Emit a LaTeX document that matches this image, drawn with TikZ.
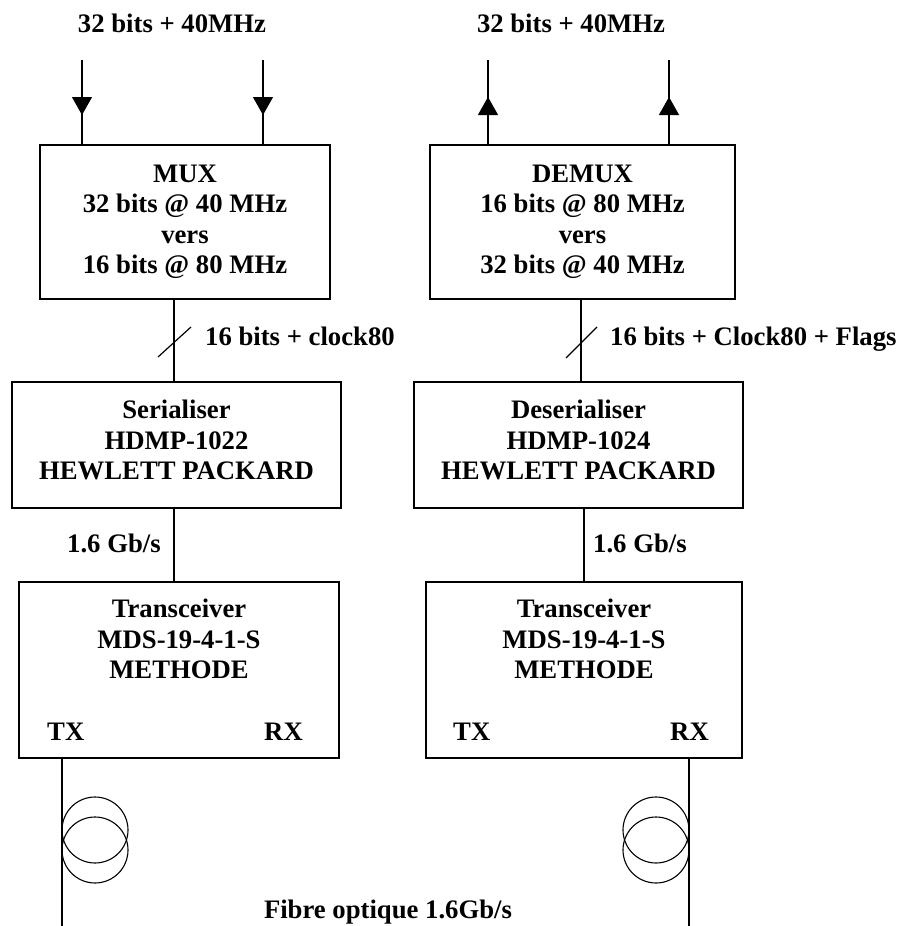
\documentclass[tikz,border=0pt]{standalone}
\usepackage{fontspec}
\setmainfont{Liberation Serif}
\usetikzlibrary{arrows.meta}
\begin{document}
\begin{tikzpicture}[x=1pt,y=-1pt,
  box/.style={draw,line width=1.4pt,inner sep=0pt,rectangle},
  txt/.style={inner sep=0pt,align=center,font=\fontsize{26.7}{30.5}\selectfont\bfseries},
  lbl/.style={inner sep=0pt,font=\fontsize{26.7}{30.5}\selectfont\bfseries},
  wire/.style={line width=1.2pt},
  fib/.style={line width=1.1pt},
  arr/.style={line width=1.2pt,-{Triangle[width=20pt,length=18pt]}}]
\useasboundingbox (0,0) rectangle (902,926);
% boxes
\node[box,minimum width=290pt,minimum height=154pt] (mux) at (185,222) {};
\node[box,minimum width=305pt,minimum height=154pt] (demux) at (582.5,222) {};
\node[box,minimum width=329pt,minimum height=126pt] (ser) at (176.5,445) {};
\node[box,minimum width=329pt,minimum height=126pt] (des) at (578.5,445) {};
\node[box,minimum width=320pt,minimum height=176pt] (trl) at (179,670) {};
\node[box,minimum width=316pt,minimum height=176pt] (trr) at (584,670) {};
% box texts
\node[txt] (muxt) at (185,222) {MUX\\32 bits @ 40 MHz\\vers\\16 bits @ 80 MHz};
\node[txt] (demuxt) at (582.5,222) {DEMUX\\16 bits @ 80 MHz\\vers\\32 bits @ 40 MHz};
\node[txt] (sert) at (176.5,440) {Serialiser\\HDMP-1022\\HEWLETT PACKARD};
\node[txt] (dest) at (578.5,440) {Deserialiser\\HDMP-1024\\HEWLETT PACKARD};
\node[txt] (trlt) at (179,639) {Transceiver\\MDS-19-4-1-S\\METHODE};
\node[txt] (trrt) at (584,639) {Transceiver\\MDS-19-4-1-S\\METHODE};
\node[lbl,anchor=base west] (txl) at (47,740) {TX};
\node[lbl,anchor=base east] (rxl) at (303,740) {RX};
\node[lbl,anchor=base west] (txr) at (453,740) {TX};
\node[lbl,anchor=base east] (rxr) at (709,740) {RX};
% top labels
\node[lbl,anchor=base] (inl) at (172,32) {32 bits + 40MHz};
\node[lbl,anchor=base] (outl) at (571,32) {32 bits + 40MHz};
% input arrows (down)
\coordinate (i1) at (82,60); \coordinate (h1) at (82,115);
\coordinate (i2) at (263,60); \coordinate (h2) at (263,115);
\draw[wire] (i1) -- (i1 |- mux.north);
\draw[wire] (i2) -- (i2 |- mux.north);
\draw[arr] (i1) -- (h1);
\draw[arr] (i2) -- (h2);
% output arrows (up)
\coordinate (o1) at (488,60); \coordinate (g1) at (488,97);
\coordinate (o2) at (669,60); \coordinate (g2) at (669,97);
\draw[wire] (o1) -- (o1 |- demux.north);
\draw[wire] (o2) -- (o2 |- demux.north);
\draw[arr] (o1 |- demux.north) -- (g1);
\draw[arr] (o2 |- demux.north) -- (g2);
% buses
\coordinate (b1) at (174,342);
\coordinate (b2) at (581,342);
\draw[wire] (b1 |- mux.south) -- (b1 |- ser.north);
\draw[wire] (b2 |- demux.south) -- (b2 |- des.north);
\draw[wire] ([shift={(-16,15)}]b1) -- ([shift={(17,-15)}]b1);
\draw[wire] ([shift={(-15,16)}]b2) -- ([shift={(16,-15)}]b2);
\node[lbl,anchor=base west] (busl) at (205,345) {16 bits + clock80};
\node[lbl,anchor=base west] (busr) at (610,345) {16 bits + Clock80 + Flags};
% serial links
\coordinate (s1) at (174,510);
\coordinate (s2) at (584,510);
\draw[wire] (s1 |- ser.south) -- (s1 |- trl.north);
\draw[wire] (s2 |- des.south) -- (s2 |- trr.north);
\node[lbl,anchor=base west] (gl) at (67,552) {1.6 Gb/s};
\node[lbl,anchor=base west] (gr) at (593,552) {1.6 Gb/s};
% fibres
\coordinate (fl) at (62,926);
\coordinate (fr) at (689,926);
\draw[fib] (fl |- trl.south) -- (fl);
\draw[fib] (fr |- trr.south) -- (fr);
\draw[fib] (95,830) circle[radius=33];
\draw[fib] (95,850) circle[radius=33];
\draw[fib] (656,830) circle[radius=33];
\draw[fib] (656,850) circle[radius=33];
\node[lbl,anchor=base] (fibt) at (388,918) {Fibre optique 1.6Gb/s};
\end{tikzpicture}
\end{document}
